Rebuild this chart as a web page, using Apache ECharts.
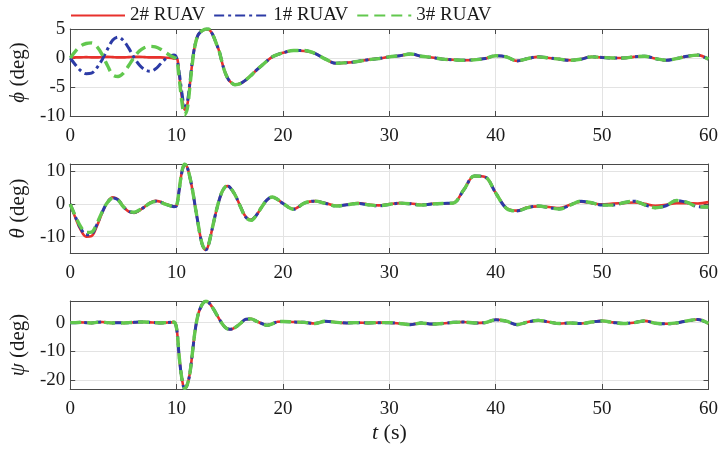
<!DOCTYPE html>
<html>
<head>
<meta charset="utf-8">
<script src="https://cdn.jsdelivr.net/npm/echarts@6/dist/echarts.min.js"></script>
<style>
html, body { margin: 0; padding: 0; background: #fff; }
#chart { width: 721px; height: 452px; }
</style>
</head>
<body>
<div id="chart"></div>
<script>
// time samples (s): finer around the disturbance at 10 s
const t = [0,0.5,1,1.5,2,2.5,3,3.5,4,4.5,5,5.5,6,6.5,7,7.5,8,8.5,9,9.5,
  9.75,10,10.25,10.5,10.75,11,11.25,11.5,11.75,12,12.25,12.5,12.75,13,13.25,13.5,13.75,14,14.25,14.5,14.75,15,
  15.5,16,16.5,17,17.5,18,18.5,19,19.5,20,
  21,22,23,24,25,26,27,28,29,30,31,32,33,34,35,36,37,38,39,40,41,42,43,44,45,46,47,48,49,50,51,52,53,54,55,56,57,58,59,60];

const seriesNames = ['2# RUAV', '1# RUAV', '3# RUAV'];

// roll angle phi (deg)
const phi2 = [0,0.1,0.1,0.15,0.1,0.1,0.15,0.2,0.15,0.1,0.1,0.15,0.2,0.2,0.15,0.1,0.1,0.1,0.05,0.0,
  -0.1,0.0,-3.0,-6.8,-8.9,-8.1,-4.5,-0.4,2.4,3.9,4.5,4.8,5.0,4.9,4.5,3.6,2.4,1.2,-0.6,-2.2,-3.3,-4.0,
  -4.6,-4.4,-3.8,-3.0,-2.1,-1.3,-0.5,0.2,0.6,0.9,
  1.3,1.2,0.8,-0.2,-0.9,-0.8,-0.6,-0.3,-0.1,0.2,0.4,0.7,0.3,0.1,-0.2,-0.3,-0.4,-0.3,-0.1,0.4,0.2,-0.5,-0.1,0.2,0.0,-0.2,-0.4,-0.2,0.2,0.1,0.0,0.0,0.2,0.3,-0.1,-0.4,-0.1,0.3,0.5,-0.2];
const phi1 = [0,-1.2,-2.2,-2.7,-2.6,-1.7,-0.3,1.5,3.1,3.6,3.0,1.7,0.1,-1.2,-2.0,-2.3,-1.9,-1.0,-0.1,0.4,
  0.5,0.0,-2.6,-6.0,-8.2,-7.6,-4.2,-0.3,2.4,3.9,4.5,4.8,5.0,5.0,4.5,3.6,2.4,1.2,-0.6,-2.2,-3.3,-4.0,
  -4.6,-4.4,-3.8,-3.0,-2.1,-1.3,-0.5,0.2,0.6,0.9,
  1.3,1.3,0.8,-0.2,-0.9,-0.8,-0.6,-0.3,-0.1,0.2,0.4,0.7,0.3,0.1,-0.2,-0.3,-0.4,-0.3,-0.1,0.4,0.2,-0.5,-0.1,0.2,0.0,-0.2,-0.4,-0.2,0.2,0.1,0.0,0.0,0.2,0.3,-0.1,-0.4,-0.1,0.3,0.5,-0.2];
const phi3 = [0,1.2,2.1,2.5,2.6,2.0,0.6,-1.3,-2.9,-3.2,-2.6,-1.3,0.1,1.2,1.8,2.0,1.9,1.5,0.9,0.3,
  0.1,-0.2,-3.6,-7.6,-9.8,-8.8,-4.9,-0.6,2.3,3.9,4.5,4.8,5.0,5.0,4.5,3.6,2.4,1.2,-0.6,-2.2,-3.3,-4.0,
  -4.6,-4.4,-3.8,-3.0,-2.1,-1.3,-0.5,0.2,0.6,0.9,
  1.3,1.3,0.8,-0.2,-0.9,-0.8,-0.6,-0.3,-0.1,0.2,0.4,0.7,0.3,0.1,-0.2,-0.3,-0.4,-0.3,-0.1,0.4,0.2,-0.5,-0.1,0.2,0.0,-0.2,-0.4,-0.2,0.2,0.1,0.0,0.0,0.2,0.3,-0.1,-0.4,-0.1,0.3,0.5,-0.2];

// pitch angle theta (deg)
const theta2 = [0,-4.3,-8.0,-10.0,-9.8,-6.8,-2.7,0.6,2.1,1.4,-0.8,-2.3,-2.7,-2.0,-0.8,0.4,1.0,0.7,0.0,-0.5,
  -0.7,-0.4,4.6,10.0,12.2,11.3,8.2,4.2,-0.8,-5.6,-10.2,-13.2,-14.0,-12.5,-9.0,-5.3,-1.8,1.2,3.6,5.0,5.5,5.2,
  2.8,-0.7,-3.9,-4.8,-3.4,-0.9,1.3,2.2,1.4,0.2,
  -1.5,0.3,0.9,0.3,-0.5,-0.2,0.3,-0.1,-0.4,0.0,0.3,0.2,-0.2,0.1,0.2,0.3,4.4,8.6,8.3,3.4,-1.2,-2.0,-1.0,-0.7,-0.9,-1.2,-0.2,0.7,0.3,-0.1,0.2,0.3,0.5,0.1,-0.5,-0.2,0.3,0.3,0.2,0.6];
const theta1 = [0,-4.0,-7.5,-9.4,-9.2,-6.3,-2.5,0.5,1.9,1.3,-0.8,-2.2,-2.6,-1.9,-0.8,0.3,0.9,0.6,-0.1,-0.6,
  -0.8,-0.5,4.5,9.8,12.0,11.2,8.2,4.2,-0.8,-5.6,-10.2,-13.2,-14.0,-12.5,-9.0,-5.3,-1.8,1.2,3.6,5.0,5.5,5.2,
  2.8,-0.8,-4.0,-4.9,-3.4,-0.9,1.3,2.2,1.4,0.2,
  -1.6,0.3,0.9,0.2,-0.6,-0.2,0.2,-0.2,-0.5,-0.1,0.3,0.1,-0.3,0.0,0.2,0.3,4.4,8.6,8.3,3.4,-1.3,-2.1,-1.1,-0.6,-1.1,-1.5,-0.3,0.9,0.4,-0.3,-0.3,0.4,0.9,-0.2,-1.1,-0.5,1.1,0.5,-0.8,-0.9];
const theta3 = [0,-3.8,-7.0,-8.7,-8.6,-6.0,-2.4,0.5,1.8,1.2,-0.8,-2.1,-2.5,-1.8,-0.8,0.3,0.8,0.5,-0.1,-0.6,
  -0.8,-0.5,4.6,10.0,12.3,11.3,8.2,4.2,-0.8,-5.6,-10.2,-13.1,-13.8,-12.4,-9.0,-5.3,-1.8,1.2,3.6,5.0,5.6,5.2,
  2.8,-0.8,-4.1,-5.0,-3.4,-0.9,1.3,2.2,1.4,0.2,
  -1.6,0.3,0.9,0.2,-0.6,-0.2,0.2,-0.2,-0.5,-0.1,0.3,0.1,-0.3,0.0,0.2,0.3,4.4,8.6,8.3,3.4,-1.3,-2.1,-1.1,-0.6,-1.1,-1.5,-0.3,0.9,0.4,-0.3,-0.3,0.4,0.9,-0.2,-1.1,-0.5,1.1,0.5,-0.8,-0.9];

// yaw angle psi (deg)
const psi2 = [0,0,0.1,0,-0.1,0.1,0.2,0,-0.1,0,-0.1,0,0.1,0.2,0.2,0.1,0,-0.1,0,0.1,
  0.2,-2.0,-12.0,-19.5,-22.8,-21.5,-17.5,-10.0,-2.5,2.5,5.2,6.8,7.4,7.0,5.9,4.5,2.9,1.3,-0.2,-1.4,-2.1,-2.3,
  -1.7,-0.3,1.2,1.3,0.5,-0.3,-0.9,-0.4,0.3,0.4,
  0.2,0.1,-0.3,0.5,0.1,-0.1,0.0,-0.1,0.0,0.0,-0.3,-0.7,-0.1,-0.5,-0.3,0.1,0.2,-0.1,0.0,1.0,0.5,-0.7,0.2,0.8,0.2,-0.3,-0.1,-0.3,0.2,0.6,0.1,-0.3,0.0,0.6,-0.2,-0.4,-0.1,0.6,1.1,-0.3];
const psi1 = [0,0,0.1,0,-0.1,0.1,0.2,0,-0.1,0,-0.1,0,0.1,0.2,0.2,0.1,0,-0.1,0,0.1,
  0.2,-2.0,-12.0,-19.5,-22.8,-21.5,-17.5,-10.0,-2.5,2.5,5.2,6.8,7.4,7.0,5.9,4.5,2.9,1.3,-0.2,-1.4,-2.1,-2.3,
  -1.7,-0.3,1.2,1.3,0.5,-0.3,-0.9,-0.4,0.3,0.4,
  0.2,0.1,-0.3,0.5,0.1,-0.1,0.0,-0.1,0.0,0.0,-0.3,-0.7,-0.1,-0.5,-0.3,0.1,0.2,-0.1,0.0,1.0,0.5,-0.7,0.2,0.8,0.2,-0.3,-0.1,-0.3,0.2,0.6,0.1,-0.3,0.0,0.6,-0.2,-0.4,-0.1,0.6,1.1,-0.3];
const psi3 = [0,0,0.1,0,-0.1,0.1,0.2,0,-0.1,0,-0.1,0,0.1,0.2,0.2,0.1,0,-0.1,0,0.1,
  0.2,-2.0,-12.0,-19.5,-22.8,-21.5,-17.5,-10.0,-2.5,2.5,5.2,6.8,7.4,7.0,5.9,4.5,2.9,1.3,-0.2,-1.4,-2.1,-2.3,
  -1.7,-0.3,1.2,1.3,0.5,-0.3,-0.9,-0.4,0.3,0.4,
  0.2,0.1,-0.3,0.5,0.1,-0.1,0.0,-0.1,0.0,0.0,-0.3,-0.7,-0.1,-0.5,-0.3,0.1,0.2,-0.1,0.0,1.0,0.5,-0.7,0.2,0.8,0.2,-0.3,-0.1,-0.3,0.2,0.6,0.1,-0.3,0.0,0.6,-0.2,-0.4,-0.1,0.6,1.1,-0.3];

const font = 'Liberation Serif';
const textColor = '#1a1a1a';
const axisColor = '#4a4a4a';
const colors = ['#e8312c', '#2c3ba6', '#62c84e'];
const lineTypes = ['solid', [10, 4, 3, 4], [11, 6]];
const lineWidths = [2.6, 3, 3.4];

const grids = [
  { left: 68, right: 12, top: 29, height: 87 },
  { left: 68, right: 12, top: 164, height: 89 },
  { left: 68, right: 12, top: 301, height: 88 }
];
const yRanges = [
  { min: -10, max: 5, interval: 5 },
  { min: -15, max: 12.3, splitNumber: 3 },
  { min: -23, max: 7.5, splitNumber: 3 }
];
const yNames = ['{i|ϕ} (deg)', '{i|θ} (deg)', '{i|ψ} (deg)'];
const panelData = [[phi2, phi1, phi3], [theta2, theta1, theta3], [psi2, psi1, psi3]];

function pairs(v) {
  return t.map((x, i) => [x, v[i]]);
}

// tick labels go through a rich style so the serif face is used
const tickLabel = {
  color: textColor, fontFamily: font, fontSize: 19,
  formatter: '{n|{value}}',
  rich: { n: { fontFamily: font, fontSize: 19, color: textColor } }
};

const xAxis = [];
const yAxis = [];
const series = [];

grids.forEach((g, k) => {
  const tick = { show: true, inside: true, length: 5, lineStyle: { color: axisColor } };
  const line = { show: true, onZero: false, lineStyle: { color: axisColor, width: 1 } };
  xAxis.push({
    type: 'value', gridIndex: k, min: 0, max: 60, interval: 10,
    axisLine: line, axisTick: tick,
    axisLabel: Object.assign({ margin: 11 }, tickLabel),
    splitLine: { show: true, lineStyle: { color: '#e3e3e3' } },
    name: k === 2 ? '{i|t} (s)' : '',
    nameLocation: 'middle', nameGap: 33,
    nameTextStyle: { color: textColor, fontFamily: font, fontSize: 22,
      rich: { i: { fontStyle: 'italic', fontFamily: font, fontSize: 22, color: textColor } } }
  });
  xAxis.push({
    type: 'value', gridIndex: k, position: 'top', min: 0, max: 60, interval: 10,
    axisLine: line, axisTick: tick, axisLabel: { show: false }, splitLine: { show: false }
  });
  const r = yRanges[k];
  yAxis.push(Object.assign({
    type: 'value', gridIndex: k,
    axisLine: line, axisTick: tick,
    axisLabel: Object.assign({ margin: 5, showMinLabel: k === 0, showMaxLabel: k === 0 }, tickLabel),
    splitLine: { show: true, lineStyle: { color: '#e3e3e3' } },
    name: yNames[k], nameLocation: 'middle', nameGap: 40, nameRotate: 90,
    nameTextStyle: { color: textColor, fontFamily: font, fontSize: 21,
      rich: { i: { fontStyle: 'italic', fontFamily: font, fontSize: 21, color: textColor } } }
  }, r));
  yAxis.push(Object.assign({
    type: 'value', gridIndex: k, position: 'right',
    axisLine: line, axisTick: tick, axisLabel: { show: false }, splitLine: { show: false }
  }, r));
  panelData[k].forEach((vals, s) => {
    series.push({
      name: seriesNames[s], type: 'line',
      xAxisIndex: k * 2, yAxisIndex: k * 2,
      data: pairs(vals),
      smooth: 0.35, symbol: 'none', showSymbol: false,
      lineStyle: { color: colors[s], width: lineWidths[s], type: lineTypes[s] },
      itemStyle: { color: colors[s] },
      z: 2 + s
    });
  });
});

const chart = echarts.init(document.getElementById('chart'));
chart.setOption({
  backgroundColor: '#fff',
  animation: false,
  textStyle: { fontFamily: font, color: textColor },
  legend: {
    data: seriesNames, left: 65, top: 1,
    itemWidth: 54, itemHeight: 14, itemGap: 8,
    itemStyle: { opacity: 0 },
    textStyle: { fontFamily: font, fontSize: 19, color: textColor }
  },
  grid: grids,
  xAxis: xAxis,
  yAxis: yAxis,
  series: series
});
</script>
</body>
</html>
